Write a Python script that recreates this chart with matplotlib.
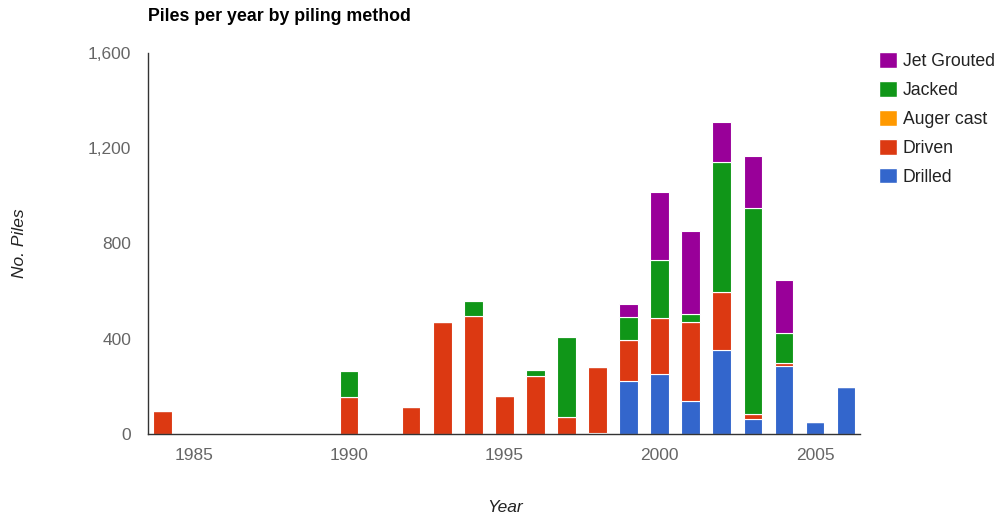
import numpy as np
import matplotlib
matplotlib.use('Agg')
import matplotlib.pyplot as plt
from matplotlib.patches import Patch
from matplotlib.ticker import FuncFormatter

plt.rcParams['font.family'] = ['Liberation Sans', 'DejaVu Sans']

years = np.arange(1984, 2007)
drilled = [0, 0, 0, 0, 0, 0, 0, 0, 0, 0, 0, 0, 0, 0, 5, 223, 252, 139, 353, 62, 286, 50, 197]
driven = [95, 0, 0, 0, 0, 0, 154, 0, 112, 470, 497, 160, 242, 71, 275, 172, 235, 333, 245, 21, 14, 0, 0]
auger_cast = [0] * 23
jacked = [0, 0, 0, 0, 0, 0, 109, 0, 0, 0, 62, 0, 27, 338, 3, 96, 244, 31, 544, 867, 125, 0, 0]
jet_grouted = [0, 0, 0, 0, 0, 0, 0, 0, 0, 0, 0, 0, 0, 0, 0, 54, 285, 348, 167, 218, 222, 0, 0]

names = ['Drilled', 'Driven', 'Auger cast', 'Jacked', 'Jet Grouted']
series = [drilled, driven, auger_cast, jacked, jet_grouted]
colors = ['#3366cc', '#dc3912', '#ff9900', '#109618', '#990099']

fig = plt.figure(figsize=(10, 5.18), dpi=100)
ax = fig.add_axes([0.148, 0.162, 0.712, 0.736])

bottom = np.zeros(len(years))
for vals, c in zip(series, colors):
    vals = np.array(vals, dtype=float)
    ax.bar(years, vals, width=0.6, bottom=bottom, color=c, edgecolor='white', linewidth=0.8)
    bottom += vals

ax.set_xlim(1983.53, 2006.45)
ax.set_ylim(0, 1600)
ax.set_yticks([0, 400, 800, 1200, 1600])
ax.set_xticks([1985, 1990, 1995, 2000, 2005])
ax.yaxis.set_major_formatter(FuncFormatter(lambda v, p: f'{int(v):,}'))
ax.tick_params(length=0, labelsize=12.5, labelcolor='#666666')
ax.tick_params(axis='y', pad=12)
ax.tick_params(axis='x', pad=10)

for s in ['top', 'right']:
    ax.spines[s].set_visible(False)
for s in ['left', 'bottom']:
    ax.spines[s].set_color('#333333')
    ax.spines[s].set_linewidth(1)

fig.text(0.148, 0.968, 'Piles per year by piling method', fontsize=12.8, fontweight='bold',
         color='black', ha='left', va='center')
fig.text(0.02, 0.53, 'No. Piles', fontsize=12.5, style='italic', color='#222222',
         rotation=90, ha='center', va='center')
fig.text(0.505, 0.02, 'Year', fontsize=12.5, style='italic', color='#222222',
         ha='center', va='center')

handles = [Patch(facecolor=c, edgecolor='white') for c in colors][::-1]
leg = fig.legend(handles, names[::-1], loc='upper left', bbox_to_anchor=(0.872, 0.913),
                 frameon=False, fontsize=12.7, handlelength=1.0, handleheight=1.0,
                 handletextpad=0.35, labelspacing=0.62, borderaxespad=0)
for t in leg.get_texts():
    t.set_color('#222222')

fig.savefig('out.png', dpi=100)
